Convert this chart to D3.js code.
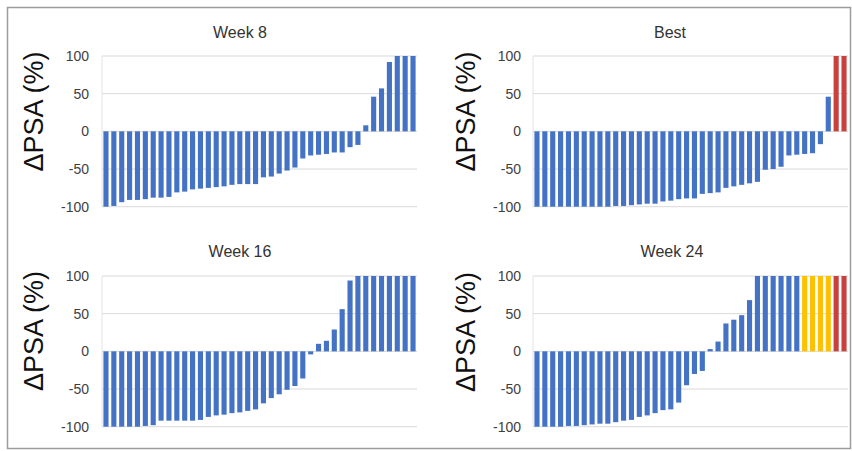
<!DOCTYPE html>
<html>
<head>
<meta charset="utf-8">
<script src="https://cdn.jsdelivr.net/npm/d3@7"></script>
<style>
  body { margin: 0; background: #fff; }
  svg { display: block; font-family: "Liberation Sans", Arial, sans-serif; }
</style>
</head>
<body>
<div id="chart"></div>
<script>
// patients, sorted by PSA change in each panel
const patients = [1, 2, 3, 4, 5, 6, 7, 8, 9, 10, 11, 12, 13, 14, 15, 16, 17, 18, 19, 20,
                  21, 22, 23, 24, 25, 26, 27, 28, 29, 30, 31, 32, 33, 34, 35, 36, 37, 38, 39, 40];

const week8 = [-100, -99, -94, -91, -91, -90, -88, -88, -87, -81, -80, -77, -76, -75, -74, -73, -71, -70, -70, -70,
               -61, -60, -56, -52, -48, -36, -32, -31, -30, -28, -28, -21, -18, 8, 46, 57, 92, 100, 100, 100];

const best = [-100, -100, -100, -100, -100, -100, -100, -100, -100, -100, -99, -99, -98, -97, -96, -96, -93, -92, -90, -89,
              -89, -83, -82, -81, -75, -73, -71, -69, -67, -51, -50, -47, -32, -31, -30, -29, -17, 46, 100, 100];

const week16 = [-100, -100, -100, -100, -100, -99, -98, -92, -92, -92, -92, -92, -91, -87, -85, -84, -82, -81, -79, -77,
                -69, -62, -57, -51, -46, -36, -4, 10, 14, 29, 56, 94, 100, 100, 100, 100, 100, 100, 100, 100];

const week24 = [-100, -100, -100, -100, -99, -99, -98, -97, -96, -96, -94, -92, -91, -87, -85, -82, -78, -77, -68, -45,
                -30, -26, 3, 13, 37, 42, 48, 68, 100, 100, 100, 100, 100, 100, 100, 100, 100, 100, 100, 100];

// 0 = evaluable, 1 = missing, 2 = progressed (coloured groups)
const week8Group  = [0, 0, 0, 0, 0, 0, 0, 0, 0, 0, 0, 0, 0, 0, 0, 0, 0, 0, 0, 0,
                     0, 0, 0, 0, 0, 0, 0, 0, 0, 0, 0, 0, 0, 0, 0, 0, 0, 0, 0, 0];
const bestGroup   = [0, 0, 0, 0, 0, 0, 0, 0, 0, 0, 0, 0, 0, 0, 0, 0, 0, 0, 0, 0,
                     0, 0, 0, 0, 0, 0, 0, 0, 0, 0, 0, 0, 0, 0, 0, 0, 0, 0, 2, 2];
const week16Group = [0, 0, 0, 0, 0, 0, 0, 0, 0, 0, 0, 0, 0, 0, 0, 0, 0, 0, 0, 0,
                     0, 0, 0, 0, 0, 0, 0, 0, 0, 0, 0, 0, 0, 0, 0, 0, 0, 0, 0, 0];
const week24Group = [0, 0, 0, 0, 0, 0, 0, 0, 0, 0, 0, 0, 0, 0, 0, 0, 0, 0, 0, 0,
                     0, 0, 0, 0, 0, 0, 0, 0, 0, 0, 0, 0, 0, 0, 1, 1, 1, 1, 2, 2];

const titles = ["Week 8", "Best", "Week 16", "Week 24"];
const yTicks = [-100, -50, 0, 50, 100];
const yLabel = "\u0394PSA (%)";

const width = 852, height = 451;

const color = d3.scaleOrdinal()
  .domain([0, 1, 2])
  .range(["#4472C4", "#FFC000", "#C8413E"]);

const svg = d3.select("#chart")
  .append("svg")
  .attr("width", width)
  .attr("height", height);

// outer frame
svg.append("rect")
  .attr("x", 7.5).attr("y", 7.5)
  .attr("width", 843).attr("height", 441)
  .attr("fill", "none")
  .attr("stroke", "#9c9c9c")
  .attr("stroke-width", 1.5);

// panel layout: plot x range, y range, title and label positions
const panels = [
  { values: week8,  groups: week8Group,  title: titles[0], x0: 102, x1: 417, top: 56,  bottom: 206.7, tx: 240, ty: 38,  lx: 43,  ly: 111.5, ax: 89 },
  { values: best,   groups: bestGroup,   title: titles[1], x0: 533, x1: 848, top: 56,  bottom: 206.7, tx: 670, ty: 38,  lx: 475, ly: 111.5, ax: 521 },
  { values: week16, groups: week16Group, title: titles[2], x0: 102, x1: 417, top: 276, bottom: 426.7, tx: 240, ty: 257, lx: 43,  ly: 331,   ax: 89 },
  { values: week24, groups: week24Group, title: titles[3], x0: 533, x1: 848, top: 276, bottom: 426.7, tx: 672, ty: 257, lx: 475, ly: 332,   ax: 521 }
];

panels.forEach((p) => {
  const g = svg.append("g");

  const xScale = d3.scaleBand()
    .domain(patients)
    .range([p.x0, p.x1])
    .paddingInner(0.35)
    .paddingOuter(0.18);

  const yScale = d3.scaleLinear()
    .domain([-100, 100])
    .range([p.bottom, p.top]);

  // gridlines
  g.selectAll("line.grid")
    .data(yTicks)
    .enter()
    .append("line")
      .attr("class", "grid")
      .attr("x1", p.x0)
      .attr("x2", p.x1)
      .attr("y1", (d) => yScale(d))
      .attr("y2", (d) => yScale(d))
      .attr("stroke", "#d9d9d9")
      .attr("stroke-width", 1);

  // faint left axis line
  g.append("line")
    .attr("x1", p.x0).attr("x2", p.x0)
    .attr("y1", yScale(100)).attr("y2", yScale(-100))
    .attr("stroke", "#e3e3e3");

  // bars
  g.selectAll("rect.bar")
    .data(p.values)
    .enter()
    .append("rect")
      .attr("class", "bar")
      .attr("x", (d, i) => xScale(patients[i]))
      .attr("width", xScale.bandwidth())
      .attr("y", (d) => yScale(Math.max(0, d)))
      .attr("height", (d) => Math.abs(yScale(d) - yScale(0)))
      .attr("fill", (d, i) => color(p.groups[i]));

  // y tick labels (plain hyphen for negatives, as in the original)
  g.append("g")
    .attr("transform", `translate(${p.ax},0)`)
    .call(d3.axisLeft(yScale).tickValues(yTicks).tickSize(0).tickPadding(0)
      .tickFormat((d) => String(d)))
    .call((a) => a.select(".domain").remove())
    .selectAll("text")
      .attr("font-size", "14px")
      .attr("font-family", "Liberation Sans, Arial, sans-serif")
      .attr("fill", "#404040");

  // title
  g.append("text")
    .attr("x", p.tx)
    .attr("y", p.ty)
    .attr("text-anchor", "middle")
    .attr("font-size", "16px")
    .attr("fill", "#333")
    .text(p.title);

  // y label
  g.append("text")
    .attr("transform", `translate(${p.lx},${p.ly}) rotate(-90)`)
    .attr("text-anchor", "middle")
    .attr("font-size", "27px")
    .attr("fill", "#111")
    .text(yLabel);
});
</script>
</body>
</html>
